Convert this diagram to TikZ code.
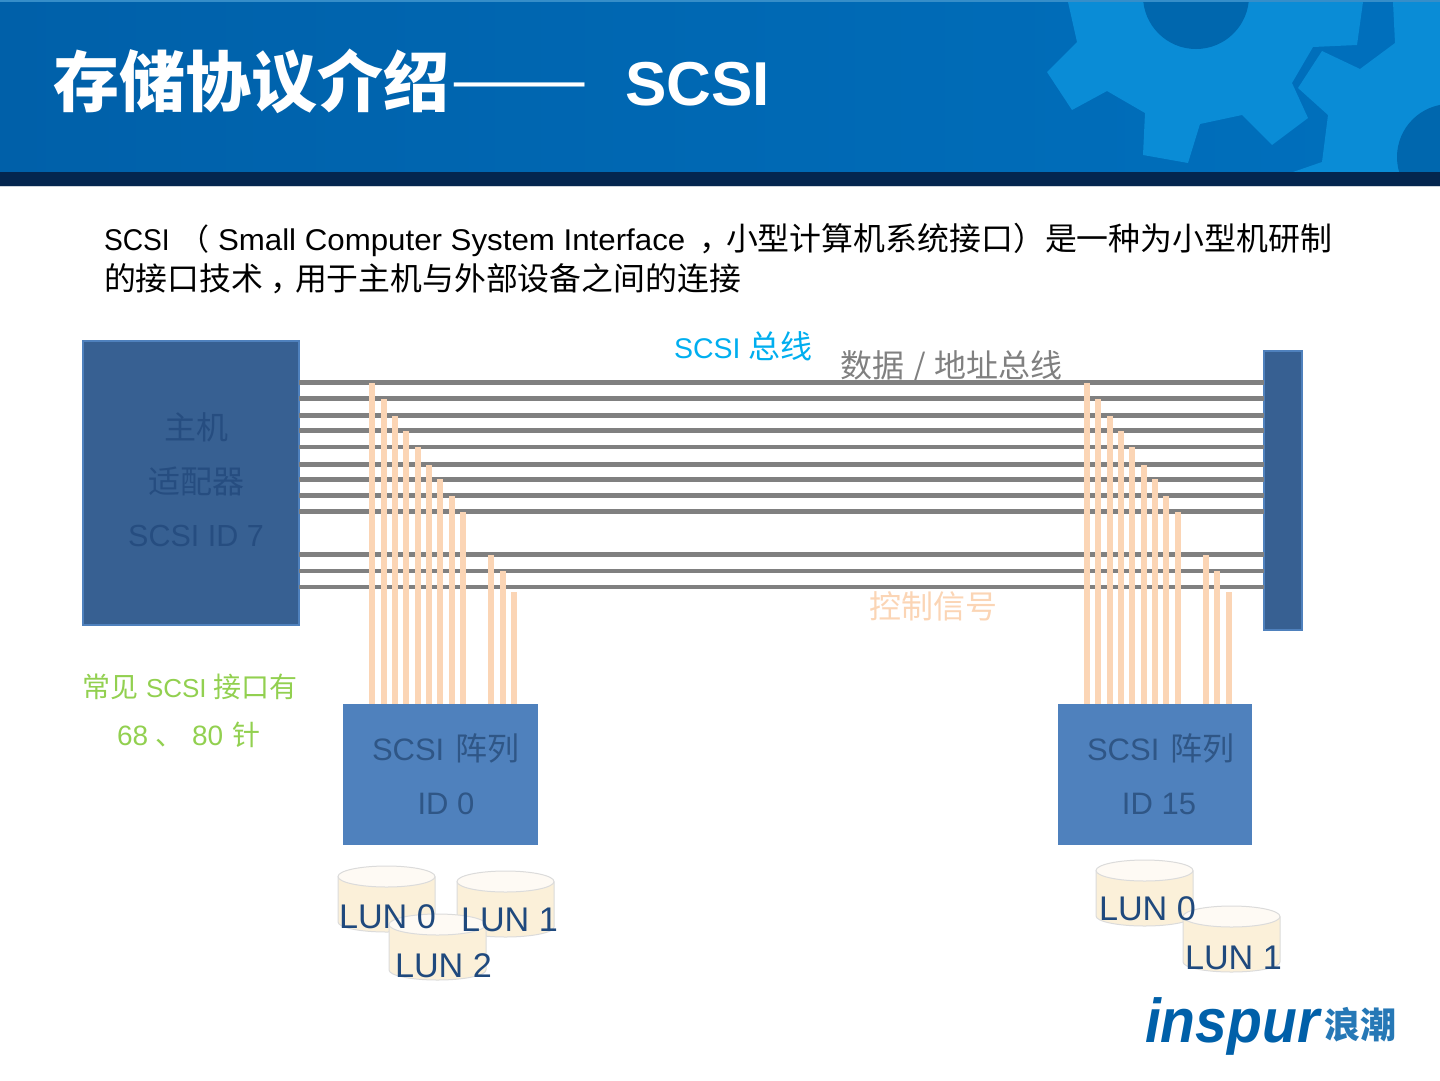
\documentclass[tikz,border=0pt]{standalone}
\usepackage{fontspec}
\setmainfont{Liberation Sans}
\newfontfamily\cj{Noto Sans CJK SC}
\usetikzlibrary{calc}
\definecolor{hdrL}{HTML}{0060A9}
\definecolor{hdrR}{HTML}{0070BD}
\definecolor{gearC}{HTML}{0A8CD6}
\definecolor{hdrBar}{HTML}{04264F}
\definecolor{hostFill}{HTML}{376092}
\definecolor{boxEdge}{HTML}{4F81BD}
\definecolor{hostText}{HTML}{264D80}
\definecolor{arrText}{HTML}{2F5686}
\definecolor{busC}{HTML}{808080}
\definecolor{sigC}{HTML}{FBD5B5}
\definecolor{lunC}{HTML}{1F497D}
\definecolor{cyanC}{HTML}{00AEEF}
\definecolor{greenC}{HTML}{92D050}
\definecolor{diskFill}{HTML}{FBF0D9}
\newcommand{\fsz}[1]{\fontsize{#1}{#1}\selectfont}
\newcommand{\lundisk}[2]{%
  \fill[diskbody] (#1,#2+10.5) -- (#1,#2+56) arc[start angle=180,end angle=360,x radius=48.5pt,y radius=10pt] -- (#1+97,#2+10.5) arc[start angle=0,end angle=180,x radius=48.5pt,y radius=10.5pt] -- cycle;
  \draw[diskedge] (#1,#2+10.5) -- (#1,#2+56) arc[start angle=180,end angle=360,x radius=48.5pt,y radius=10pt] -- (#1+97,#2+10.5);
  \draw[diskedge,fill=white!70!diskFill] (#1+48.5,#2+10.5) ellipse[x radius=48.5pt,y radius=10.5pt];
}
\tikzset{
  x=1pt,y=-1pt,
  lbl/.style={inner sep=0pt,outer sep=0pt,anchor=base west},
  clbl/.style={inner sep=0pt,outer sep=0pt,anchor=base,align=center},
  hostbox/.style={draw=boxEdge,line width=2pt,fill=hostFill,inner sep=0pt,outer sep=0pt},
  arrbox/.style={fill=boxEdge,inner sep=0pt,outer sep=0pt,minimum width=194.5pt,minimum height=141pt},
  bus/.style={draw=busC,line width=4.5pt},
  sig/.style={draw=sigC,line width=6pt},
  diskbody/.style={fill=diskFill},
  diskedge/.style={draw=black!14,line width=1pt},
}
\begin{document}
\begin{tikzpicture}
\useasboundingbox (0,0) rectangle (1440,1080);
% header band
\shade[left color=hdrL,right color=hdrR] (0,0) rectangle (1440,172);
\begin{scope}
\clip (0,0) rectangle (1440,172);
\fill[gearC] (1068,2) -- (1077,42) -- (1047,72) -- (1072,110) -- (1107,91) -- (1145,113) -- (1143,155) -- (1188,163) -- (1200,124) -- (1242,115) -- (1272,145) -- (1308,118) -- (1292,83) -- (1313,47) -- (1357,45) -- (1363,2) -- cycle;
\fill[hdrR!92!black] (1196,-4) circle[radius=53pt];
\fill[gearC] (1322,51) -- (1360,69) -- (1395,43) -- (1393,2) -- (1440,2) -- (1440,172) -- (1293,172) -- (1322,162) -- (1328,115) -- (1298,88) -- cycle;
\fill[hdrR!92!black] (1450,157) circle[radius=53pt];
\end{scope}
\fill[gearC!40!hdrL!80!white] (0,0) rectangle (1440,1.5);
\fill[hdrBar] (0,172) rectangle (1440,186);
\fill[hdrBar!20!white] (0,186) rectangle (1440,187);
% title
\node[lbl,text=white] (title) at (53,106) {\fsz{66}\cj\bfseries 存储协议介绍};
\node[lbl,text=white,xscale=1.25] (titled) at (450,103) {\fsz{66}\cj ——};
\node[lbl,text=white] (titleb) at (625,105) {\fsz{62}\bfseries SCSI};
% intro
\node[lbl,xscale=0.94] (introa) at (104,250) {\fsz{30}SCSI};
\node[lbl] (introb) at (179,250) {\fsz{30}\cj（};
\node[lbl,xscale=1.042] (introc) at (218,250) {\fsz{30}Small Computer System Interface};
\node[lbl] (introd) at (699,250) {\fsz{32}\cj，};
\node[lbl] (introe) at (726,250) {\fsz{31.9}\cj 小型计算机系统接口）是一种为小型机研制};
\node[lbl] (introf) at (104,290) {\fsz{31.85}\cj 的接口技术};
\node[lbl] (introg) at (270,290) {\fsz{31.85}\cj，};
\node[lbl] (introh) at (295,290) {\fsz{31.85}\cj 用于主机与外部设备之间的连接};
% main boxes
\node[hostbox,minimum width=216pt,minimum height=284pt] (host) at (190.5,482.5) {};
\node[hostbox,fill=hostFill,minimum width=38pt,minimum height=279pt] (term) at (1282.5,490.5) {};
\node[arrbox] (arrA) at (440.5,774.5) {};
\node[arrbox] (arrB) at (1155,774.5) {};
% bus lines
\foreach \yy in {382.7,398.7,415.7,430.7,447,464.7,479.3,495.7,511.3,554.3,571,587}{
  \coordinate (bp) at (0,\yy);
  \draw[bus] (host.east |- bp) -- (term.west |- bp);
}
% signal lines
\foreach \xx/\tt in {372/383,384/399,395/416,406/431,418/447,429/465,440/479,452/496,463/512,491/555,503/571,514/592}{
  \coordinate (sp) at (\xx,\tt);
  \draw[sig] (sp) -- (sp |- arrA.north);
}
\foreach \xx/\tt in {1087/383,1098/399,1110/416,1121/431,1132/447,1144/465,1155/479,1166/496,1178/512,1206/555,1217/571,1229/592}{
  \coordinate (sp) at (\xx,\tt);
  \draw[sig] (sp) -- (sp |- arrB.north);
}
% labels
\node[clbl,text=hostText] (hosta) at (196,439) {\fsz{32}\cj 主机};
\node[clbl,text=hostText] (hostb) at (196,493) {\fsz{32}\cj 适配器};
\node[clbl,text=hostText] (hostc) at (196,546) {\fsz{30.5}SCSI ID 7};
\node[lbl,text=cyanC] (buslbl) at (674,358) {\fsz{28.5}SCSI\hspace{8pt}\fsz{32}\cj 总线};
\node[lbl,text=busC] (datalbl) at (840,377) {\fsz{32}\cj 数据\hspace{2pt} / \hspace{2pt}地址总线};
\node[lbl,text=sigC] (ctrllbl) at (869,618) {\fsz{32}\cj 控制信号};
\node[lbl,text=greenC] (commona) at (82,697) {\fsz{28}\cj 常见\hspace{8pt}\rmfamily\fsz{26}SCSI\hspace{7pt}\cj\fsz{28}接口有};
\node[lbl,text=greenC] (commonb) at (117,745) {\fsz{28}\rmfamily 68\hspace{7pt}\cj 、\hspace{9pt}\rmfamily 80\hspace{9pt}\cj 针};
\node[lbl,text=arrText] (arrAa) at (372,760) {\fsz{31}SCSI \hspace{3pt}\fsz{32}\cj 阵列};
\node[clbl,text=arrText] (arrAb) at (446,814) {\fsz{31}ID 0};
\node[lbl,text=arrText] (arrBa) at (1087,760) {\fsz{31}SCSI \hspace{3pt}\fsz{32}\cj 阵列};
\node[clbl,text=arrText] (arrBb) at (1159,814) {\fsz{31}ID 15};
% disks
\lundisk{338}{866}
\lundisk{457}{871}
\lundisk{389}{914}
\lundisk{1096}{860}
\lundisk{1183}{906}
\node[lbl,text=lunC] (lunA) at (339,928.5) {\fsz{34.2}LUN 0};
\node[lbl,text=lunC] (lunB) at (461,931.5) {\fsz{34.2}LUN 1};
\node[lbl,text=lunC] (lunC) at (395,977) {\fsz{34.2}LUN 2};
\node[lbl,text=lunC] (lunD) at (1099,920) {\fsz{34.2}LUN 0};
\node[lbl,text=lunC] (lunE) at (1185,969) {\fsz{34.2}LUN 1};
% logo
\node[lbl,text=hdrL,xscale=0.92] (logoa) at (1145,1042) {\fsz{62}\itshape\bfseries inspur};
\node[lbl,text=hdrL!85!white] (logob) at (1324,1038) {\fsz{36}\cj\bfseries 浪潮};
\end{tikzpicture}
\end{document}
